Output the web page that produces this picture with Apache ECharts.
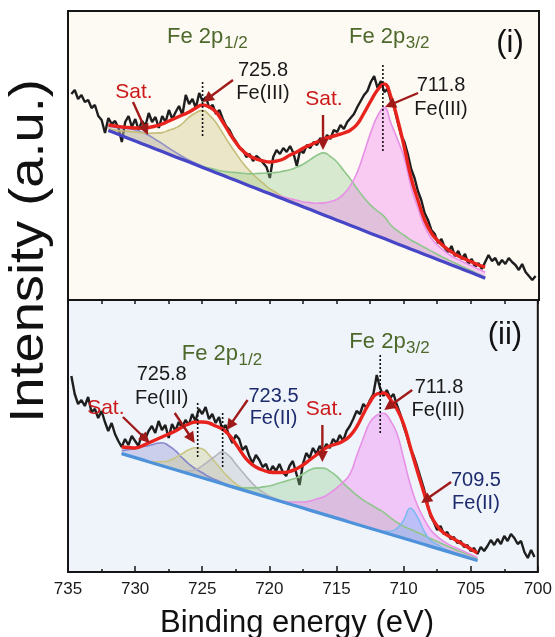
<!DOCTYPE html>
<html><head><meta charset="utf-8">
<script src="https://cdn.jsdelivr.net/npm/echarts@6/dist/echarts.min.js"></script>
<style>html,body{margin:0;padding:0;background:#fff}#c{width:555px;height:637px}</style>
</head><body><div id="c"></div>
<script>
// ---------------- DATA ----------------
// Binding energy axis
const xMin = 700, xMax = 735, xStep = 5;
const xTitle = 'Binding energy (eV)';
const yTitle = 'Intensity (a.u.)';

// Raw spectra (a.u.), sampled every 0.25 eV from 734.75 eV down to 700.25 eV
const specStart = 734.75, specStep = 0.25;
const spec_i = [206,210,201,205,198,200,192,195,184,180,167,182,176,179,172,158,178,184,173,181,170,179,174,187,178,183,172,184,178,190,181,188,194,185,205,196,201,192,207,199,203,192,195,186,190,181,174,170,163,158,152,150,143,146,139,144,141,137,133,122,143,150,146,152,148,154,147,134,150,147,155,152,158,155,162,158,165,161,170,168,175,171,178,182,186,193,199,205,209,218,224,212,219,208,211,199,192,178,165,158,146,131,122,109,100,87,80,70,66,57,61,52,48,54,44,49,41,46,36,41,33,37,31,38,45,39,42,35,40,36,42,38,35,30,36,28,24,20,24];
const spec_ii = [196,178,168,172,166,175,160,163,154,161,150,141,149,138,131,125,133,127,136,131,126,138,133,141,146,139,151,142,147,134,148,141,150,144,152,147,158,151,163,158,165,153,158,149,155,142,147,136,129,137,133,122,126,116,109,117,112,105,108,99,106,101,108,100,96,106,111,99,87,108,119,114,124,118,126,121,128,124,133,129,137,131,141,146,153,161,158,168,164,172,178,197,184,176,182,174,178,167,158,146,136,124,116,106,95,84,70,56,50,42,46,38,40,33,35,29,31,25,27,21,24,18,25,21,26,32,27,33,28,36,31,38,34,28,31,20,14,22,15];

// Fit grid, panel (i): 732 eV down to 704 eV every 0.5 eV
const fitStart_i = 732, fitStep = 0.5;
const background_i = [169.5,166.9,164.2,161.6,159.0,156.3,153.7,151.0,148.4,145.8,143.1,140.5,137.9,135.2,132.6,129.9,127.3,124.7,122.0,119.4,116.8,114.1,111.5,108.8,106.2,103.6,100.9,98.3,95.7,93.0,90.4,87.7,85.1,82.5,79.8,77.2,74.6,71.9,69.3,66.6,64.0,61.4,58.8,56.1,53.5,50.8,48.2,45.5,42.9,40.3,37.7,35.0,32.4,29.8,27.2,24.5,21.8];
// component heights above background
const sat1_i = [4,6,8,10,11,11.5,11,9.5,8,6,4.5,3,2,1.5,1,0.5,0,0,0,0,0,0,0,0,0,0,0,0,0,0,0,0,0,0,0,0,0,0,0,0,0,0,0,0,0,0,0,0,0,0,0,0,0,0,0,0,0];
const fe3_12_i = [2,3,5,7,9,11,13,16,19,24,29,36,45,52,57,55,50,42,34,27,20,15,11,8,5,3.5,2,1.5,1,0.5,0,0,0,0,0,0,0,0,0,0,0,0,0,0,0,0,0,0,0,0,0,0,0,0,0,0,0];
const sat2_i = [0,0,0,0,0,0,0,0,0,0,0,0,0,0,1,2,3,4,6,8,10,12,15,18,21,24,28,32,37,43,50,57,62,61,58,52,46,39,33,28,25,22,16,13,11,9,8,7,6,5,4,3.5,3,2.5,2,1.5,1];
const fe3_32_i = [0,0,0,0,0,0,0,0,0,0,0,0,0,0,0,0,0,0,0,0,0,0,0,0,1,1.5,2,3,4,5,7,9,12,16,21,29,40,56,78,101,120,131,118,104,88,62,44,28,19,14,11,9,8,7.5,7,6.5,6];
const envelope_i = [175,174,173,172.5,172,172,172.5,174,176,179,182,185,188,192,195,193,188,178,167,157,149,144,141,139,138,139,141,145,148,152,155,158,161,163,165,167,170,176,187,199,210,216,203,180,152,122,100,80,67,59,53,48,44,41,38,35,33];

// Fit grid, panel (ii): 731 eV down to 704.5 eV every 0.5 eV
const fitStart_ii = 731;
const background_ii = [118.4,116.4,114.4,112.4,110.3,108.3,106.3,104.3,102.3,100.3,98.2,96.2,94.2,92.2,90.2,88.2,86.1,84.1,82.1,80.1,78.1,76.1,74.0,72.0,70.0,68.0,66.0,64.0,61.9,59.9,57.9,55.9,53.9,51.9,49.8,47.8,45.8,43.8,41.8,39.8,37.7,35.7,33.7,31.7,29.7,27.7,25.6,23.6,21.6,19.6,17.6,15.6,13.5,11.5];
const sat1_ii = [3,6,9,13,16,20,23,22,19,14,10,7,5,3,2,1,0.5,0,0,0,0,0,0,0,0,0,0,0,0,0,0,0,0,0,0,0,0,0,0,0,0,0,0,0,0,0,0,0,0,0,0,0,0,0];
const fe3_12_ii = [0,0,0,0,0,2,4,7,12,18,24,28,29,25,19,13,8,4,2,1,0,0,0,0,0,0,0,0,0,0,0,0,0,0,0,0,0,0,0,0,0,0,0,0,0,0,0,0,0,0,0,0,0,0];
const fe2_12_ii = [0,0,0,0,0,0,0,0,0,0,3,6,12,19,26,32,30,24,18,12,7,4,2,1,0,0,0,0,0,0,0,0,0,0,0,0,0,0,0,0,0,0,0,0,0,0,0,0,0,0,0,0,0,0];
const sat2_ii = [0,0,0,0,0,0,0,0,0,0,0,0,0,0,0,0,0,1,2,4,6,9,12,16,20,24,28,34,40,44,46,45,42,37,33,29,26,24,22,20,17,14,12,11,10,9,8,7,6,5,4,3.5,3,2];
const fe3_32_ii = [0,0,0,0,0,0,0,0,0,0,0,0,0,0,0,0,0,0,0,0,0,0,0,0,1,2,4,6,9,13,17,23,30,38,48,68,88,106,115,119,114,103,80,56,38,26,17,12,9,7,6,5,4,3];
const fe2_32_ii = [0,0,0,0,0,0,0,0,0,0,0,0,0,0,0,0,0,0,0,0,0,0,0,0,0,0,0,0,0,0,0,0,0,0,0,0,0,0,0,1,3,8,18,32,26,14,6,4,2,1,0,0,0,0];
const envelope_ii = [125,124.5,124,126,129,132,135,138,141,145,148,150,150,149,146,143,137,128,118,110,105,102,100,99.5,99.5,100.5,103,107,112,117,122,126,128,131,136,145,158,170,178,179,173,163,148,125,102,80,58,46,39,35,31,27,23,19];

// Annotations: [panel, energy, intensity, text, kind]
const annotations = [
  [0, 727.64, 263, 'Fe 2p', 'fe'], [0, 723.40, 257, '1/2', 'sub'],
  [0, 714.12, 263, 'Fe 2p', 'fe'], [0, 709.90, 257, '3/2', 'sub'],
  [0, 702.15, 257, '(i)', 'panel'],
  [0, 720.51, 230, '725.8', 'num'], [0, 720.51, 207, 'Fe(III)', 'num'],
  [0, 707.28, 215, '711.8', 'num'], [0, 707.28, 191, 'Fe(III)', 'num'],
  [0, 730.10, 208, 'Sat.', 'sat'], [0, 715.98, 201, 'Sat.', 'sat'],
  [1, 726.53, 218, 'Fe 2p', 'fe'], [1, 722.30, 212, '1/2', 'sub'],
  [1, 714.04, 230, 'Fe 2p', 'fe'], [1, 709.82, 224, '3/2', 'sub'],
  [1, 702.45, 237, '(ii)', 'panel'],
  [1, 728.02, 198, '725.8', 'num'], [1, 728.02, 174, 'Fe(III)', 'num'],
  [1, 719.69, 176, '723.5', 'num2'], [1, 719.69, 154, 'Fe(II)', 'num2'],
  [1, 732.18, 164, 'Sat.', 'sat'], [1, 715.90, 163, 'Sat.', 'sat'],
  [1, 707.36, 185, '711.8', 'num'], [1, 707.43, 162, 'Fe(III)', 'num'],
  [1, 704.61, 92, '709.5', 'num2'], [1, 704.61, 69, 'Fe(II)', 'num2']
];
// Arrows: [panel, fromE, fromI, toE, toI]
const arrows = [
  [0, 730.17, 198, 729.06, 165], [0, 716.05, 185, 716.05, 150],
  [0, 722.74, 220, 724.97, 198], [0, 708.99, 207, 711.44, 193],
  [1, 730.91, 155, 728.91, 129], [1, 727.05, 159, 725.56, 129],
  [1, 721.62, 172, 723.18, 142], [1, 716.05, 147, 716.05, 110],
  [1, 709.36, 182, 711.44, 162], [1, 706.46, 90, 708.69, 69]
];
// Peak marker dotted lines: [panel, energy, topI, bottomI]
const markers = [
  [0, 725.0, 218, 163], [0, 711.6, 235, 148],
  [1, 725.34, 169, 114], [1, 723.48, 159, 104], [1, 711.74, 217, 139]
];

// ---------------- CHART ----------------
const FONT = '"Liberation Sans", Arial, Helvetica, sans-serif';
const chart = echarts.init(document.getElementById('c'), null, {renderer: 'canvas'});

function eGrid(start, step, n) { return Array.from({length: n}, (_, i) => +(start - step * i).toFixed(3)); }
// rows are [intensity, energy] so that the intensity dimension is the stacked one
function rows(xs, ys) { return ys.map((y, i) => [y, xs[i]]); }
const ENC = {x: 1, y: 0};

const specE = eGrid(specStart, specStep, spec_i.length);
const fitE_i = eGrid(fitStart_i, fitStep, background_i.length);
const fitE_ii = eGrid(fitStart_ii, fitStep, background_ii.length);

const panels = [
  {spec: spec_i, fitE: fitE_i, bg: background_i, env: envelope_i, bgColor: '#4646c6',
   comps: [
     {h: sat1_i, line: 'rgba(135,135,200,0.9)', fill: 'rgba(140,140,205,0.42)'},
     {h: fe3_12_i, line: '#c4bd7a', fill: 'rgba(200,192,118,0.5)'},
     {h: sat2_i, line: '#8fc68b', fill: 'rgba(135,200,130,0.45)'},
     {h: fe3_32_i, line: '#e690e6', fill: 'rgba(242,125,242,0.55)'}
   ]},
  {spec: spec_ii, fitE: fitE_ii, bg: background_ii, env: envelope_ii, bgColor: '#4d92da',
   comps: [
     {h: sat1_ii, line: 'rgba(125,125,200,0.9)', fill: 'rgba(130,130,205,0.45)'},
     {h: fe3_12_ii, line: '#c9c585', fill: 'rgba(205,202,130,0.5)'},
     {h: fe2_12_ii, line: '#b4b4bc', fill: 'rgba(185,185,192,0.5)'},
     {h: sat2_ii, line: '#8fc68b', fill: 'rgba(135,200,130,0.45)'},
     {h: fe3_32_ii, line: '#e690e6', fill: 'rgba(242,125,242,0.55)'},
     {h: fe2_32_ii, line: '#7fb9f0', fill: 'rgba(120,180,250,0.6)'}
   ]}
];

const series = [];
panels.forEach((p, g) => {
  const xi = g === 0 ? 0 : 1;
  series.push({type: 'line', xAxisIndex: xi, yAxisIndex: g, data: rows(specE, p.spec), encode: ENC, symbol: 'none',
    lineStyle: {color: '#1e1e1e', width: 2.4}, z: 2, silent: true});
  p.comps.forEach((c, k) => {
    const st = 'p' + g + 'c' + k;
    series.push({type: 'line', xAxisIndex: xi, yAxisIndex: g, stack: st, data: rows(p.fitE, p.bg), encode: ENC, symbol: 'none',
      lineStyle: {opacity: 0, width: 0}, z: 3, silent: true});
    series.push({type: 'line', xAxisIndex: xi, yAxisIndex: g, stack: st, data: rows(p.fitE, c.h), encode: ENC, symbol: 'none',
      smooth: 0.5, lineStyle: {color: c.line, width: 1.6}, areaStyle: {color: c.fill}, z: 3, silent: true});
  });
  series.push({type: 'line', xAxisIndex: xi, yAxisIndex: g, data: rows(p.fitE, p.bg), encode: ENC, symbol: 'none',
    lineStyle: {color: p.bgColor, width: 3.2}, z: 4, silent: true});
  series.push({type: 'line', xAxisIndex: xi, yAxisIndex: g, data: rows(p.fitE, p.env), encode: ENC, symbol: 'none', smooth: 0.5,
    lineStyle: {color: '#e8221c', width: 3.4}, z: 5, silent: true});
});

const tickLine = {color: '#151515', width: 1.5};
const option = {
  animation: false,
  backgroundColor: '#ffffff',
  grid: [
    {left: 68, right: 16, top: 11, height: 289, show: true, backgroundColor: '#fdfaf3', borderColor: '#151515', borderWidth: 2},
    {left: 68, right: 16, top: 300, height: 272, show: true, backgroundColor: '#eef4fa', borderColor: '#151515', borderWidth: 2}
  ],
  xAxis: [
    {gridIndex: 0, type: 'value', min: xMin, max: xMax, interval: xStep, inverse: true,
     axisLine: {show: false}, axisTick: {show: false}, axisLabel: {show: false}, splitLine: {show: false}},
    {gridIndex: 1, type: 'value', min: xMin, max: xMax, interval: xStep, inverse: true, position: 'bottom',
     axisLine: {show: true, onZero: false, lineStyle: {color: '#151515', width: 2}},
     axisTick: {show: true, inside: true, length: 6, lineStyle: tickLine},
     minorTick: {show: true, splitNumber: 2, length: 3, lineStyle: tickLine},
     axisLabel: {show: true, fontSize: 17, color: '#1a1a1a', margin: 9, fontFamily: FONT, showMinLabel: true, showMaxLabel: true},
     splitLine: {show: false}},
    {gridIndex: 1, type: 'value', min: xMin, max: xMax, interval: xStep, inverse: true, position: 'top',
     axisLine: {show: false, onZero: false},
     axisTick: {show: true, inside: true, length: 4, lineStyle: tickLine},
     minorTick: {show: true, splitNumber: 2, length: 4, lineStyle: tickLine},
     axisLabel: {show: false}, splitLine: {show: false}}
  ],
  yAxis: [
    {gridIndex: 0, type: 'value', min: 0, max: 289, show: false},
    {gridIndex: 1, type: 'value', min: 0, max: 272, show: false}
  ],
  series: series
};
chart.setOption(option);

// ---------------- ANNOTATIONS ----------------
const styles = {
  fe:    {fontSize: 22, fill: '#4d682a', align: 'left'},
  sub:   {fontSize: 17, fill: '#4d682a', align: 'left'},
  panel: {fontSize: 31, fill: '#111111', align: 'center'},
  num:   {fontSize: 20, fill: '#1a1a1a', align: 'center'},
  num2:  {fontSize: 20, fill: '#1d2b6e', align: 'center'},
  sat:   {fontSize: 21, fill: '#cc1a1a', align: 'center'}
};
const px = (g, e, v) => chart.convertToPixel({gridIndex: g}, [e, v]);
const graphics = [];
annotations.forEach(([g, e, v, t, k]) => {
  const p = px(g, e, v); const s = styles[k];
  graphics.push({type: 'text', x: p[0], y: p[1], z: 20,
    style: {text: t, fontSize: s.fontSize, fontFamily: FONT, fill: s.fill, align: s.align, verticalAlign: 'middle'}});
});
markers.forEach(([g, e, v1, v2]) => {
  const a = px(g, e, v1), b = px(g, e, v2);
  graphics.push({type: 'line', z: 15, shape: {x1: a[0], y1: a[1], x2: b[0], y2: b[1]},
    style: {stroke: '#111', lineWidth: 1.6, lineDash: [2, 2]}});
});
arrows.forEach(([g, e1, v1, e2, v2]) => {
  const a = px(g, e1, v1), b = px(g, e2, v2);
  const dx = b[0] - a[0], dy = b[1] - a[1], L = Math.hypot(dx, dy);
  const ux = dx / L, uy = dy / L, nx = -uy, ny = ux, hl = 11, hw = 5.5;
  const bx = b[0] - ux * hl, by = b[1] - uy * hl;
  graphics.push({type: 'line', z: 16, shape: {x1: a[0], y1: a[1], x2: bx + ux * 2, y2: by + uy * 2},
    style: {stroke: '#a01a1a', lineWidth: 2.4}});
  graphics.push({type: 'polygon', z: 16, shape: {points: [[b[0], b[1]], [bx + nx * hw, by + ny * hw], [bx - nx * hw, by - ny * hw]]},
    style: {fill: '#a01a1a'}});
});
graphics.push({type: 'text', x: 30, y: 251, rotation: Math.PI / 2, scaleX: 1.13, z: 20,
  style: {text: yTitle, fontSize: 48, fontFamily: FONT, fill: '#111', align: 'center', verticalAlign: 'middle'}});
graphics.push({type: 'text', x: 297, y: 623, z: 20,
  style: {text: xTitle, fontSize: 31, fontFamily: FONT, fill: '#111', align: 'center', verticalAlign: 'middle'}});
chart.setOption({graphic: graphics});
</script>
</body></html>
